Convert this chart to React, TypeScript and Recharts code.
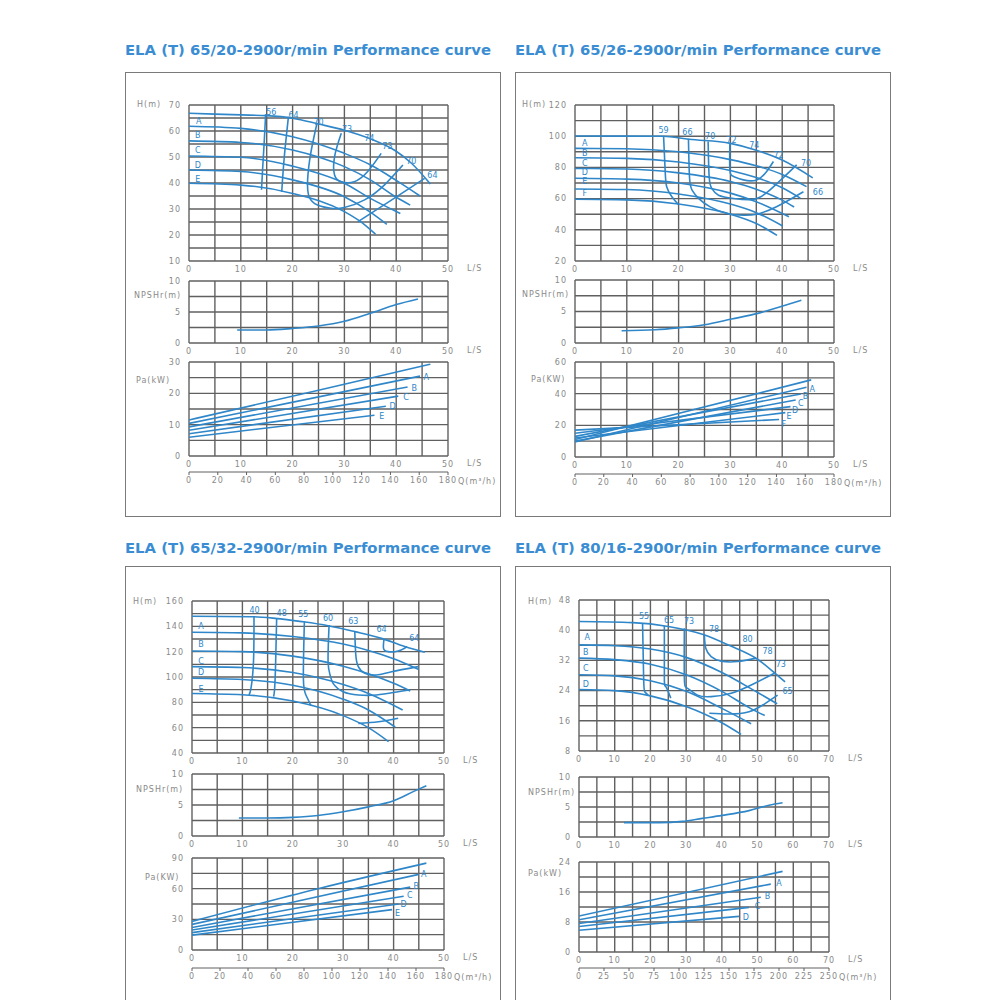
import { LineChart, Line, XAxis, YAxis, CartesianGrid, ReferenceDot } from "recharts"

type P = [number, number]
type Tag = { x: number; y: number; t: string }

const BLUE = "#2f87c9"
const TITLE = "#3a8dd3"
const GRID = "#606060"
const GRAY = "#8a8a8a"
const FONT = "'DejaVu Sans', sans-serif"

// shared ticks
const xTicks50 = [0, 5, 10, 15, 20, 25, 30, 35, 40, 45, 50]
const xLabels50 = [0, 10, 20, 30, 40, 50]
const xTicks70 = [0, 5, 10, 15, 20, 25, 30, 35, 40, 45, 50, 55, 60, 65, 70]
const xLabels70 = [0, 10, 20, 30, 40, 50, 60, 70]
const npshTicks = [0, 2.5, 5, 7.5, 10]
const npshLabels = [0, 5, 10]
const qTicks180 = [0, 20, 40, 60, 80, 100, 120, 140, 160, 180]
const qTicks250 = [0, 25, 50, 75, 100, 125, 150, 175, 200, 225, 250]

// ELA (T) 65/20
const h1Ticks = [10, 15, 20, 25, 30, 35, 40, 45, 50, 55, 60, 65, 70]
const h1Labels = [10, 20, 30, 40, 50, 60, 70]
const h1Max: P[] = [[0, 66.8], [10, 66.2], [15, 65.9], [20, 64.9], [25, 62.7], [30, 60.3], [35, 57], [40, 52.2], [43, 47.5], [46.6, 39.6]]
const h1A: P[] = [[0, 61.8], [10, 61], [20, 57.8], [30, 51.4], [35, 47], [40, 41], [44.6, 35]]
const h1B: P[] = [[0, 56.2], [10, 55.6], [20, 52.7], [30, 46.3], [35, 41.2], [40, 34.5], [42.7, 31.5]]
const h1C: P[] = [[0, 50.4], [10, 49.9], [20, 46.5], [30, 39.9], [35, 34.1], [40.8, 28.3]]
const h1D: P[] = [[0, 45], [10, 44.4], [20, 41.2], [30, 34.7], [35, 28.8], [38.2, 24.1]]
const h1E: P[] = [[0, 39.9], [10, 39.2], [20, 36], [30, 29], [33, 25.3], [36, 20.3]]
const e1_56: P[] = [[14.8, 66.5], [14.5, 55], [14.2, 45], [14, 37.4]]
const e1_64: P[] = [[19.2, 65.5], [18.4, 50.1], [17.9, 36.6]]
const e1_70: P[] = [[24.7, 62.9], [23.5, 51.4], [22.9, 41.2], [23.2, 34.7], [24.8, 31.5], [27.4, 30.3], [30, 30.6], [33.9, 33.5], [37.7, 39.2], [41.3, 46.9]]
const e1_73: P[] = [[29.4, 59.1], [28.1, 50.1], [28.1, 43.1], [29.4, 40.5], [31.9, 40.5], [34.5, 44.4], [37.1, 51.4]]
const e1_64r: P[] = [[32.6, 25.1], [39, 33.3], [45.5, 41.8]]
const h1Tags: Tag[] = [
  { x: 15.9, y: 67.2, t: "56" }, { x: 20.2, y: 66, t: "64" }, { x: 25, y: 63.4, t: "70" },
  { x: 30.5, y: 60.6, t: "73" }, { x: 34.8, y: 57.2, t: "74" }, { x: 38.3, y: 54.2, t: "73" },
  { x: 42.9, y: 48.4, t: "70" }, { x: 47, y: 43, t: "64" },
  { x: 1.9, y: 63.6, t: "A" }, { x: 1.7, y: 58.5, t: "B" }, { x: 1.7, y: 52.7, t: "C" },
  { x: 1.7, y: 46.9, t: "D" }, { x: 1.7, y: 41.4, t: "E" },
]
const npsh1: P[] = [[9.3, 2.1], [15, 2.1], [20, 2.35], [25, 2.75], [30, 3.5], [35, 4.8], [40, 6.2], [44.2, 7.1]]
const pa1Ticks = [0, 5, 10, 15, 20, 25, 30]
const pa1Labels = [0, 10, 20, 30]
const pa1Max: P[] = [[0, 11.5], [25, 21], [46.6, 29.3]]
const pa1A: P[] = [[0, 10.4], [44.6, 25.5]]
const pa1B: P[] = [[0, 9.3], [42.2, 22]]
const pa1C: P[] = [[0, 8.2], [40.4, 19.1]]
const pa1D: P[] = [[0, 7.1], [38, 15.9]]
const pa1E: P[] = [[0, 6], [35.8, 13]]
const pa1Tags: Tag[] = [
  { x: 45.8, y: 25.3, t: "A" }, { x: 43.5, y: 21.8, t: "B" }, { x: 41.9, y: 18.8, t: "C" },
  { x: 39.3, y: 15.9, t: "D" }, { x: 37.2, y: 12.8, t: "E" },
]

// ELA (T) 65/26
const h2Ticks = [20, 30, 40, 50, 60, 70, 80, 90, 100, 110, 120]
const h2Labels = [20, 40, 60, 80, 100, 120]
const h2Max: P[] = [[0, 100.1], [17, 100], [22, 98], [30, 95.4], [35, 91], [40, 84.7], [45.9, 73.3]]
const h2A: P[] = [[0, 92.2], [10, 92], [20, 90], [30, 85], [35, 81], [40, 75.5], [44.7, 67.7]]
const h2B: P[] = [[0, 86.2], [10, 85.8], [20, 83.5], [30, 78], [35, 73.5], [40, 67], [43.5, 60.3]]
const h2C: P[] = [[0, 79.3], [10, 79], [20, 76.5], [30, 71], [35, 66], [40, 59], [42.3, 54.6]]
const h2D: P[] = [[0, 73], [10, 72.5], [20, 70], [30, 63.5], [35, 58], [41.3, 48.4]]
const h2E: P[] = [[0, 66.2], [10, 65.8], [20, 63], [30, 56.5], [35, 51], [40.1, 42.4]]
const h2F: P[] = [[0, 59.6], [10, 59.2], [20, 56.5], [30, 50], [35, 44], [39, 36.4]]
const e2_59: P[] = [[17.1, 100], [17.4, 78.3], [17.7, 67.6], [18.7, 61.2], [20, 56]]
const e2_66: P[] = [[21.9, 98.3], [22.1, 74], [22.6, 65.4], [23.9, 60], [26.1, 54.7], [29.4, 50.4], [32.5, 49.3], [35.1, 50], [38.9, 54.8], [44.1, 64.4]]
const e2_70: P[] = [[25.7, 96.6], [25.9, 74], [26.4, 66.5], [27.7, 62.2], [30.6, 60.1], [34.4, 59.5], [37.6, 65.4], [42.8, 81.6]]
const e2_72: P[] = [[29.9, 95.5], [29.9, 78.4], [30.6, 74.2], [32.5, 72], [35.1, 72], [37, 77.4], [38.3, 83.8]]
const h2Tags: Tag[] = [
  { x: 17.1, y: 104, t: "59" }, { x: 21.7, y: 102.9, t: "66" }, { x: 26.1, y: 100.1, t: "70" },
  { x: 30.2, y: 97.2, t: "72" }, { x: 34.6, y: 94.4, t: "74" }, { x: 39.3, y: 88, t: "72" },
  { x: 44.6, y: 82.6, t: "70" }, { x: 46.9, y: 64.4, t: "66" },
  { x: 1.9, y: 95.4, t: "A" }, { x: 1.9, y: 89.4, t: "B" }, { x: 1.9, y: 83, t: "C" },
  { x: 1.9, y: 77, t: "D" }, { x: 1.9, y: 70.9, t: "E" }, { x: 1.9, y: 63.4, t: "F" },
]
const npsh2: P[] = [[9, 1.95], [15.4, 2.1], [19.9, 2.4], [25, 2.9], [30.2, 3.8], [35.3, 4.7], [39.8, 5.8], [43.7, 6.8]]
const pa2Ticks = [0, 10, 20, 30, 40, 50, 60]
const pa2Labels = [0, 20, 40, 60]
const pa2Max: P[] = [[0, 11], [45.6, 48.7]]
const pa2A: P[] = [[0, 9.5], [44.7, 44.1]]
const pa2B: P[] = [[0, 13], [43.6, 39.8]]
const pa2C: P[] = [[0, 10], [42.6, 36]]
const pa2D: P[] = [[0, 15], [41.6, 31.8]]
const pa2E: P[] = [[0, 12], [40.6, 28]]
const pa2F: P[] = [[0, 17], [39.4, 23.7]]
const pa2Tags: Tag[] = [
  { x: 45.8, y: 43, t: "A" }, { x: 44.5, y: 38.5, t: "B" }, { x: 43.6, y: 34, t: "C" },
  { x: 42.5, y: 29.8, t: "D" }, { x: 41.3, y: 25.5, t: "E" }, { x: 40.3, y: 20.5, t: "F" },
]

// ELA (T) 65/32
const h3Ticks = [40, 50, 60, 70, 80, 90, 100, 110, 120, 130, 140, 150, 160]
const h3Labels = [40, 60, 80, 100, 120, 140, 160]
const h3Max: P[] = [[0, 148], [12, 147.6], [16.5, 146.3], [21.8, 143.7], [27, 140.5], [32.3, 135.8], [37.6, 130.5], [42.2, 124], [46.2, 119.5]]
const h3A: P[] = [[0, 135.3], [10, 134.8], [20, 132], [30, 126], [35, 121], [40, 114.5], [45, 106]]
const h3B: P[] = [[0, 120.5], [10, 120], [20, 116.5], [30, 108.5], [35, 102.5], [40, 95], [43.3, 89]]
const h3C: P[] = [[0, 108.2], [10, 107.5], [20, 103.5], [30, 94], [35, 87], [41.8, 74]]
const h3D: P[] = [[0, 99], [10, 98], [20, 93.5], [30, 82.5], [35, 74], [40.3, 60.5]]
const h3E: P[] = [[0, 87], [10, 86], [20, 81], [30, 69.5], [35, 60], [39, 49]]
const e3_40: P[] = [[12.3, 147.6], [12.2, 112.1], [11.7, 91.1], [11.3, 85.8]]
const e3_48: P[] = [[16.8, 146.5], [16.6, 112.1], [16.4, 91.1], [16.2, 84.5]]
const e3_55: P[] = [[22.3, 144], [22.1, 99], [22.6, 85.8], [23.6, 77.4]]
const e3_55r: P[] = [[33, 63.4], [37, 64.7], [40.9, 67.4]]
const e3_60: P[] = [[27.2, 141], [27, 112.1], [27.4, 101.6], [28, 95], [30, 88.4], [33, 85.8], [36.6, 85.8], [40.9, 88.4], [43.2, 89.7]]
const e3_63: P[] = [[32.3, 136], [32.5, 117.4], [33, 108.2], [34.3, 102.9], [36.6, 101.6], [39.6, 104.2], [44.9, 108.2]]
const e3_64: P[] = [[38.1, 130], [38, 122.6], [38.9, 120], [40.9, 120.5], [42.7, 124]]
const h3Tags: Tag[] = [
  { x: 12.4, y: 152.9, t: "40" }, { x: 17.8, y: 150.3, t: "48" }, { x: 22.1, y: 149.5, t: "55" },
  { x: 27, y: 146.3, t: "60" }, { x: 32, y: 144.2, t: "63" }, { x: 37.6, y: 137.6, t: "64" },
  { x: 44.1, y: 130.5, t: "64" },
  { x: 1.8, y: 140.5, t: "A" }, { x: 1.8, y: 125.8, t: "B" }, { x: 1.8, y: 112.6, t: "C" },
  { x: 1.8, y: 103.7, t: "D" }, { x: 1.8, y: 90.5, t: "E" },
]
const npsh3: P[] = [[9.3, 2.9], [15, 2.9], [20, 3], [25, 3.3], [30, 3.9], [35, 4.7], [40, 5.7], [44, 7.2], [46.5, 8.1]]
const pa3Ticks = [0, 15, 30, 45, 60, 75, 90]
const pa3Labels = [0, 30, 60, 90]
const pa3Max: P[] = [[0, 28], [25, 60], [46.5, 85]]
const pa3A: P[] = [[0, 25], [45, 74]]
const pa3B: P[] = [[0, 22], [43.3, 61.5]]
const pa3C: P[] = [[0, 19.5], [42, 52.5]]
const pa3D: P[] = [[0, 17], [41, 45]]
const pa3E: P[] = [[0, 14.5], [39.7, 39.5]]
const pa3Tags: Tag[] = [
  { x: 46, y: 74.5, t: "A" }, { x: 44.5, y: 62.5, t: "B" }, { x: 43.2, y: 53.5, t: "C" },
  { x: 42, y: 44.5, t: "D" }, { x: 40.8, y: 36.5, t: "E" },
]

// ELA (T) 80/16
const h4Ticks = [8, 12, 16, 20, 24, 28, 32, 36, 40, 44, 48]
const h4Labels = [8, 16, 24, 32, 40, 48]
const h4Max: P[] = [[0, 42.3], [15, 42], [25, 41], [35, 38.8], [42, 36], [50, 32.3], [55, 28.5], [57.7, 26.3]]
const h4A: P[] = [[0, 36.1], [10, 35.9], [20, 35], [30, 32.8], [40, 28.8], [50, 23.5], [55.5, 20.5]]
const h4B: P[] = [[0, 32.6], [10, 32.2], [20, 31], [30, 28.2], [40, 23.8], [48, 19.3], [52, 17.4]]
const h4C: P[] = [[0, 28.2], [10, 27.9], [20, 26.6], [30, 23.8], [40, 19.3], [48.2, 15.2]]
const h4D: P[] = [[0, 24.3], [10, 24], [20, 22.6], [30, 19.8], [40, 15.5], [45.4, 12.4]]
const e4_55: P[] = [[17.8, 41.8], [18.1, 27.3], [18.4, 23.7], [19.4, 22.8]]
const e4_65: P[] = [[23.9, 41.1], [23.9, 27.3], [24.3, 25.1], [25.7, 22]]
const e4_65r: P[] = [[36.5, 18], [42, 17.8], [47.6, 18.4], [52, 20.5], [55.6, 22.8]]
const e4_73: P[] = [[29.5, 40.5], [29.5, 27.3], [30.4, 24.6], [33.2, 22.8], [37, 22.4], [42.6, 23.3], [49.1, 25.9], [54.7, 28.6]]
const e4_78: P[] = [[35.1, 38.7], [35.5, 35.2], [37, 33], [39.8, 31.8], [44.4, 31.7], [49.6, 32.6]]
const h4Tags: Tag[] = [
  { x: 18.2, y: 43.6, t: "55" }, { x: 25.2, y: 42.7, t: "65" }, { x: 30.8, y: 42.5, t: "73" },
  { x: 37.8, y: 40.4, t: "78" }, { x: 47.2, y: 37.7, t: "80" }, { x: 52.8, y: 34.5, t: "78" },
  { x: 56.5, y: 30.9, t: "73" }, { x: 58.4, y: 23.8, t: "65" },
  { x: 2.3, y: 38.1, t: "A" }, { x: 1.9, y: 34.3, t: "B" }, { x: 1.9, y: 29.9, t: "C" },
  { x: 1.9, y: 25.8, t: "D" },
]
const npsh4: P[] = [[12.6, 2.4], [22.4, 2.4], [28.9, 2.6], [34.5, 3.1], [40.1, 3.6], [47.6, 4.4], [53.2, 5.3], [57, 5.7]]
const pa4Ticks = [0, 4, 8, 12, 16, 20, 24]
const pa4Labels = [0, 8, 16, 24]
const pa4Max: P[] = [[0, 9.6], [57, 21.5]]
const pa4A: P[] = [[0, 8.6], [53.7, 18.1]]
const pa4B: P[] = [[0, 7.6], [50.9, 14.6]]
const pa4C: P[] = [[0, 6.8], [47.6, 11.9]]
const pa4D: P[] = [[0, 5.8], [44.8, 9.5]]
const pa4Tags: Tag[] = [
  { x: 56, y: 18.4, t: "A" }, { x: 52.8, y: 14.8, t: "B" }, { x: 50, y: 12.2, t: "C" }, { x: 46.7, y: 9.3, t: "D" },
]

const toPts = (arr: P[]) => arr.map(([x, y]) => ({ x, y }))

function Txt({ x, y, s, size = 8, color = GRAY, bold = false, ls = 1 }: {
  x: number; y: number; s: string; size?: number; color?: string; bold?: boolean; ls?: number
}) {
  return (
    <div
      style={{
        position: "absolute", left: x, top: y, transform: "translateY(-50%)",
        fontSize: size, color, fontWeight: bold ? 700 : 400, letterSpacing: ls,
        whiteSpace: "nowrap", lineHeight: 1, fontFamily: FONT,
      }}
    >
      {s}
    </div>
  )
}

const ML = 40
const MR = 10
const MT = 6
const XH = 16

function Plot(props: {
  left: number; top: number; w: number; h: number
  xTicks: number[]; xLabels: number[]
  yTicks: number[]; yLabels: number[]
  curves: P[][]; iso?: P[][]; tags?: Tag[]
}) {
  const { left, top, w, h, xTicks, xLabels, yTicks, yLabels, curves, iso = [], tags = [] } = props
  const tickStyle = { fontSize: 8, fill: GRAY, letterSpacing: 1, fontFamily: FONT }
  return (
    <>
      <div style={{ position: "absolute", left: left - ML, top: top - MT }}>
        <LineChart width={w + ML + MR} height={h + MT + XH} margin={{ top: MT, right: MR, left: 0, bottom: 0 }}>
          <CartesianGrid stroke={GRID} strokeWidth={1.4} />
          <XAxis
            type="number" dataKey="x" domain={[xTicks[0], xTicks[xTicks.length - 1]]} ticks={xTicks}
            interval={0} allowDataOverflow height={XH} axisLine={false} tickLine={false} tickSize={3}
            tick={tickStyle} tickFormatter={(v: number) => (xLabels.includes(v) ? String(v) : "")}
          />
          <YAxis
            type="number" domain={[yTicks[0], yTicks[yTicks.length - 1]]} ticks={yTicks}
            interval={0} allowDataOverflow width={ML} axisLine={false} tickLine={false} tickSize={6}
            tick={tickStyle} tickFormatter={(v: number) => (yLabels.includes(v) ? String(v) : "")}
          />
          {curves.map((c, i) => (
            <Line key={"c" + i} data={toPts(c)} dataKey="y" type="monotone" stroke={BLUE}
              strokeWidth={1.6} dot={false} isAnimationActive={false} />
          ))}
          {iso.map((c, i) => (
            <Line key={"e" + i} data={toPts(c)} dataKey="y" type="natural" stroke={BLUE}
              strokeWidth={1.6} dot={false} isAnimationActive={false} />
          ))}
          {tags.map((t, i) => (
            <ReferenceDot key={"t" + i} x={t.x} y={t.y} r={0} fill="none" stroke="none" ifOverflow="visible"
              label={{ value: t.t, position: "center", fill: BLUE, fontSize: 8, fontFamily: FONT }} />
          ))}
        </LineChart>
      </div>
      <Txt x={left + w + 19} y={top + h + 8} s="L/S" />
    </>
  )
}

function QAxis({ left, top, w, ticks }: { left: number; top: number; w: number; ticks: number[] }) {
  return (
    <>
      <div style={{ position: "absolute", left: left - ML, top: top - 4 }}>
        <LineChart width={w + ML + MR} height={26} margin={{ top: 0, right: MR, left: ML, bottom: 0 }}>
          <XAxis
            type="number" dataKey="x" domain={[ticks[0], ticks[ticks.length - 1]]} ticks={ticks}
            interval={0} height={22} axisLine={{ stroke: GRID }} tickLine={{ stroke: GRID }} tickSize={3}
            tick={{ fontSize: 8, fill: GRAY, letterSpacing: 1, fontFamily: FONT }}
          />
          <YAxis hide domain={[0, 1]} />
          <Line data={ticks.map((x) => ({ x, y: 0 }))} dataKey="y" stroke="none" dot={false} isAnimationActive={false} />
        </LineChart>
      </div>
      <Txt x={left + w + 10} y={top + 10} s="Q(m³/h)" />
    </>
  )
}

function Box({ x, y, w, h }: { x: number; y: number; w: number; h: number }) {
  return <div style={{ position: "absolute", left: x, top: y, width: w, height: h, border: "1.5px solid #7a7a7a", boxSizing: "border-box" }} />
}

export default function App() {
  return (
    <div style={{ position: "absolute", left: 0, top: 0, width: 1000, height: 1000, background: "#fff", overflow: "hidden", fontFamily: FONT }}>
      <Box x={125} y={72} w={376} h={445} />
      <Box x={515} y={72} w={376} h={445} />
      <Box x={125} y={566} w={376} h={500} />
      <Box x={515} y={566} w={376} h={500} />

      <Txt x={125} y={50} s="ELA (T) 65/20-2900r/min Performance curve" size={14.8} color={TITLE} bold ls={0} />
      <Txt x={515} y={50} s="ELA (T) 65/26-2900r/min Performance curve" size={14.8} color={TITLE} bold ls={0} />
      <Txt x={125} y={548} s="ELA (T) 65/32-2900r/min Performance curve" size={14.8} color={TITLE} bold ls={0} />
      <Txt x={515} y={548} s="ELA (T)  80/16-2900r/min Performance curve" size={14.8} color={TITLE} bold ls={0} />

      {/* 65/20 */}
      <Txt x={137} y={105} s="H(m)" />
      <Plot left={189} top={105} w={259} h={156} xTicks={xTicks50} xLabels={xLabels50} yTicks={h1Ticks} yLabels={h1Labels}
        curves={[h1Max, h1A, h1B, h1C, h1D, h1E]} iso={[e1_56, e1_64, e1_70, e1_73, e1_64r]} tags={h1Tags} />
      <Txt x={134} y={296} s="NPSHr(m)" />
      <Plot left={189} top={281} w={259} h={62} xTicks={xTicks50} xLabels={xLabels50} yTicks={npshTicks} yLabels={npshLabels}
        curves={[npsh1]} />
      <Txt x={136} y={381} s="Pa(kW)" />
      <Plot left={189} top={362} w={259} h={94} xTicks={xTicks50} xLabels={xLabels50} yTicks={pa1Ticks} yLabels={pa1Labels}
        curves={[pa1Max, pa1A, pa1B, pa1C, pa1D, pa1E]} tags={pa1Tags} />
      <QAxis left={189} top={472} w={259} ticks={qTicks180} />

      {/* 65/26 */}
      <Txt x={522} y={105} s="H(m)" />
      <Plot left={575} top={105} w={259} h={156} xTicks={xTicks50} xLabels={xLabels50} yTicks={h2Ticks} yLabels={h2Labels}
        curves={[h2Max, h2A, h2B, h2C, h2D, h2E, h2F]} iso={[e2_59, e2_66, e2_70, e2_72]} tags={h2Tags} />
      <Txt x={522} y={295} s="NPSHr(m)" />
      <Plot left={575} top={280} w={259} h={63} xTicks={xTicks50} xLabels={xLabels50} yTicks={npshTicks} yLabels={npshLabels}
        curves={[npsh2]} />
      <Txt x={531} y={380} s="Pa(KW)" />
      <Plot left={575} top={362} w={259} h={95} xTicks={xTicks50} xLabels={xLabels50} yTicks={pa2Ticks} yLabels={pa2Labels}
        curves={[pa2Max, pa2A, pa2B, pa2C, pa2D, pa2E, pa2F]} tags={pa2Tags} />
      <QAxis left={575} top={474} w={259} ticks={qTicks180} />

      {/* 65/32 */}
      <Txt x={133} y={602} s="H(m)" />
      <Plot left={192} top={601} w={252} h={152} xTicks={xTicks50} xLabels={xLabels50} yTicks={h3Ticks} yLabels={h3Labels}
        curves={[h3Max, h3A, h3B, h3C, h3D, h3E]} iso={[e3_40, e3_48, e3_55, e3_55r, e3_60, e3_63, e3_64]} tags={h3Tags} />
      <Txt x={136} y={790} s="NPSHr(m)" />
      <Plot left={192} top={774} w={252} h={62} xTicks={xTicks50} xLabels={xLabels50} yTicks={npshTicks} yLabels={npshLabels}
        curves={[npsh3]} />
      <Txt x={145} y={878} s="Pa(KW)" />
      <Plot left={192} top={858} w={252} h={92} xTicks={xTicks50} xLabels={xLabels50} yTicks={pa3Ticks} yLabels={pa3Labels}
        curves={[pa3Max, pa3A, pa3B, pa3C, pa3D, pa3E]} tags={pa3Tags} />
      <QAxis left={192} top={968} w={252} ticks={qTicks180} />

      {/* 80/16 */}
      <Txt x={528} y={602} s="H(m)" />
      <Plot left={579} top={600} w={250} h={151} xTicks={xTicks70} xLabels={xLabels70} yTicks={h4Ticks} yLabels={h4Labels}
        curves={[h4Max, h4A, h4B, h4C, h4D]} iso={[e4_55, e4_65, e4_65r, e4_73, e4_78]} tags={h4Tags} />
      <Txt x={528} y={793} s="NPSHr(m)" />
      <Plot left={579} top={777} w={250} h={60} xTicks={xTicks70} xLabels={xLabels70} yTicks={npshTicks} yLabels={npshLabels}
        curves={[npsh4]} />
      <Txt x={528} y={874} s="Pa(kW)" />
      <Plot left={579} top={862} w={250} h={90} xTicks={xTicks70} xLabels={xLabels70} yTicks={pa4Ticks} yLabels={pa4Labels}
        curves={[pa4Max, pa4A, pa4B, pa4C, pa4D]} tags={pa4Tags} />
      <QAxis left={579} top={968} w={250} ticks={qTicks250} />
    </div>
  )
}
